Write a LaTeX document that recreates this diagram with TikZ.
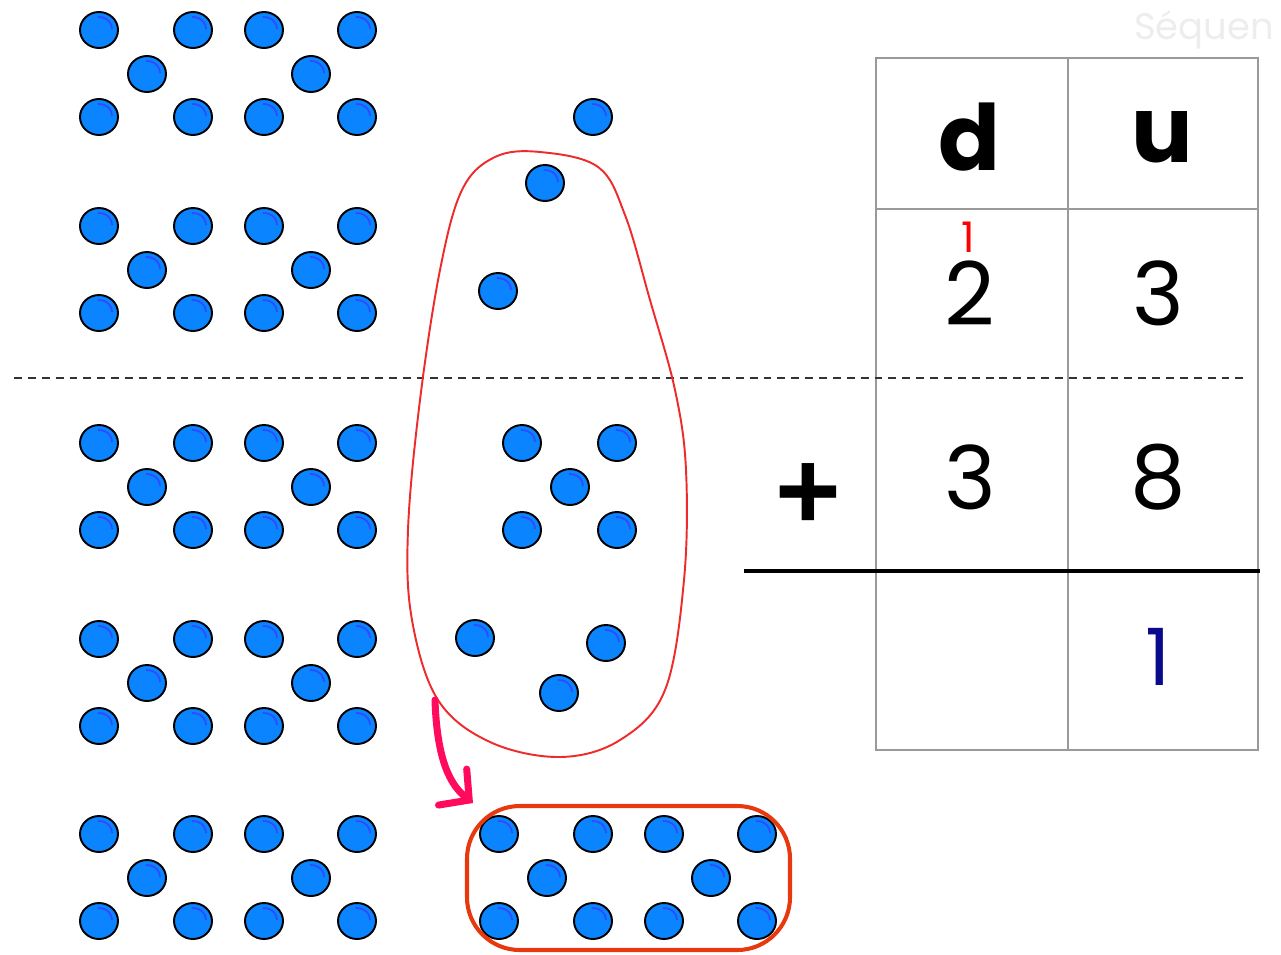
\documentclass[tikz,border=0pt]{standalone}
\usepackage{fontspec}
\setmainfont{Poppins}
\newfontfamily\signe{Liberation Sans}
\usetikzlibrary{arrows.meta}

\definecolor{bille}{HTML}{0A84FF}
\definecolor{reflet}{HTML}{2E4BFF}
\definecolor{grisgrille}{HTML}{9A9A9A}
\definecolor{rougeboite}{HTML}{E8380D}
\definecolor{rougetrait}{HTML}{EE2A2A}
\definecolor{rose}{HTML}{FF0A5C}
\definecolor{marine}{HTML}{0A0A8C}

% un jeton bleu
\newcommand{\jeton}[2]{%
  \fill[bille] (#1,#2) ellipse [x radius=19, y radius=18];
  \draw[reflet, line width=1pt] (#1,#2) ++(-95:13) arc[start angle=-95, end angle=0, x radius=13, y radius=12];
  \draw[line width=1.1pt] (#1,#2) ellipse [x radius=19, y radius=18];
}

% une dizaine = deux groupes de cinq
\newcommand{\dizaine}[2]{%
  \jeton{#1}{#2} \jeton{#1+94}{#2} \jeton{#1+165}{#2} \jeton{#1+258}{#2}
  \jeton{#1+48}{#2+44} \jeton{#1+212}{#2+44}
  \jeton{#1}{#2+87} \jeton{#1+94}{#2+87} \jeton{#1+165}{#2+87} \jeton{#1+258}{#2+87}
}

\tikzset{
  grille/.style={draw=grisgrille, line width=1.5pt},
  pointille/.style={draw=black!80, line width=1.1pt, dash pattern=on 4.5pt off 3.4pt},
  chiffre/.style={font=\fontsize{50}{50}\selectfont},
  entete/.style={font=\fontsize{52}{52}\selectfont\bfseries},
}

\begin{document}
\begin{tikzpicture}[x=0.02cm, y=-0.02cm]

\useasboundingbox (0,0) rectangle (1281,954);

\node[anchor=west, text=black!7, font=\fontsize{21}{21}\selectfont] (titre) at (1128,30) {Séquen};

% tableau
\draw[grille] (876,58) rectangle (1258,750);
\draw[grille] (1068,58) -- (1068,750);
\draw[grille] (876,209) -- (1258,209);
\draw[line width=2.3pt] (744,571) -- (1260,571);

\draw[pointille] (14,378) -- (1248,378);

\node[entete] (d) at (970,137) {d};
\node[entete] (u) at (1162,137) {u};
\node[chiffre] (d1) at (970,293) {2};
\node[chiffre] (u1) at (1158,293) {3};
\node[chiffre] (d2) at (970,477) {3};
\node[chiffre] (u2) at (1158,477) {8};
\node[text=red, font=\fontsize{24}{24}\selectfont] (retenue) at (968,237) {1};
\node[text=marine, font=\fontsize{45}{45}\selectfont] (resultat) at (1158,657) {1};
\node[font=\fontsize{64}{64}\selectfont\signe\bfseries] (plus) at (808,497) {+};

% les jetons
\foreach \y in {30,226,443,639,834} {
  \dizaine{99}{\y}
}
\jeton{593}{117}
\jeton{545}{183}
\jeton{498}{291}
\jeton{522}{443} \jeton{617}{443} \jeton{570}{487} \jeton{522}{530} \jeton{617}{530}
\jeton{475}{638} \jeton{606}{643} \jeton{559}{693}

\dizaine{499}{834}

% on entoure
\draw[rougetrait, line width=1.1pt] plot[smooth cycle, tension=0.6] coordinates {
  (540,152) (598,167) (625,215) (650,300) (675,390) (686,470) (684,580)
  (665,690) (620,740) (560,757) (490,742) (438,700) (412,620) (408,530)
  (420,400) (440,270) (462,190) (495,157)};

\draw[rougeboite, line width=2.3pt, rounded corners=30] (467,806) rectangle (790,950);

\coordinate (depart) at (435,700);
\coordinate (arrivee) at (473,803);
\draw[rose, line width=4pt, line cap=round, -{Straight Barb[length=12pt, width=26pt, line cap=round]}]
  (depart) .. controls (437,760) and (450,785) .. (arrivee);

\end{tikzpicture}
\end{document}
